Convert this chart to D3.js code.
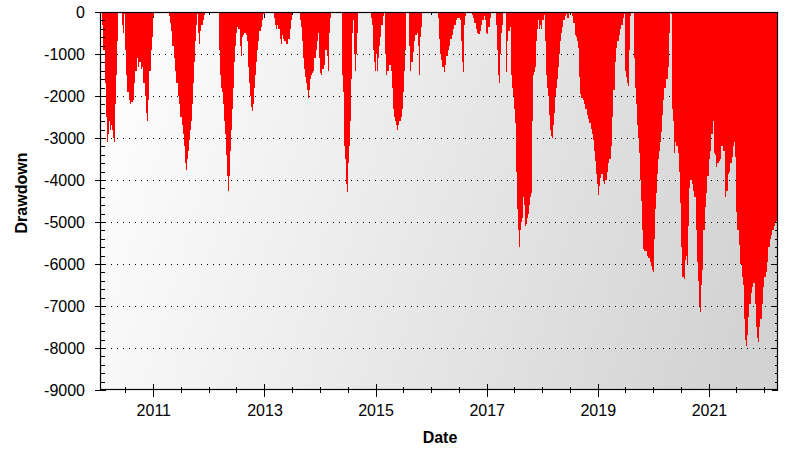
<!DOCTYPE html>
<html>
<head>
<meta charset="utf-8">
<script src="https://cdn.jsdelivr.net/npm/d3@7"></script>
<style>
    body { margin: 0; background: #fff; }
    svg { display: block; font-family: "Liberation Sans", Arial, sans-serif; }
</style>
</head>
<body>
<svg id="chart" width="812" height="462"></svg>
<script>
// --- data (decimal years, drawdown)
const years = [
    2010.076, 2010.088, 2010.112, 2010.136, 2010.160, 2010.178, 2010.196, 2010.214, 2010.232, 2010.250, 2010.268, 2010.286, 2010.298, 2010.316, 2010.334, 2010.352, 2010.370,
    2010.430, 2010.436, 2010.460, 2010.478, 2010.496, 2010.520, 2010.544, 2010.568, 2010.592, 2010.616, 2010.640, 2010.664, 2010.688, 2010.712, 2010.736, 2010.760, 2010.784, 2010.808, 2010.832, 2010.856, 2010.880, 2010.898, 2010.916, 2010.940, 2010.964, 2010.988, 2011.012, 2011.030,
    2011.276, 2011.282, 2011.306, 2011.330, 2011.354, 2011.378, 2011.402, 2011.426, 2011.450, 2011.474, 2011.498, 2011.522, 2011.546, 2011.564, 2011.582, 2011.594, 2011.612, 2011.630, 2011.648, 2011.672, 2011.696, 2011.714, 2011.732, 2011.750, 2011.768, 2011.786, 2011.804, 2011.822, 2011.834, 2011.852, 2011.876, 2011.900, 2011.924, 2011.948,
    2012.176, 2012.182, 2012.200, 2012.218, 2012.236, 2012.254, 2012.272, 2012.290, 2012.308, 2012.326, 2012.344, 2012.362, 2012.380, 2012.398, 2012.416, 2012.434, 2012.452, 2012.470, 2012.488, 2012.506, 2012.524, 2012.542, 2012.566, 2012.584, 2012.602, 2012.626, 2012.650, 2012.674, 2012.698, 2012.716, 2012.734, 2012.752, 2012.770, 2012.788, 2012.806, 2012.824, 2012.842, 2012.860, 2012.878, 2012.896, 2012.920, 2012.944, 2012.968, 2012.992, 2013.010,
    2013.166, 2013.172, 2013.190, 2013.214, 2013.238, 2013.262, 2013.286, 2013.304, 2013.322, 2013.346, 2013.370, 2013.394, 2013.418, 2013.442, 2013.460, 2013.478, 2013.502,
    2013.640, 2013.646, 2013.664, 2013.682, 2013.700, 2013.718, 2013.736, 2013.754, 2013.772, 2013.790, 2013.808, 2013.826, 2013.844, 2013.862, 2013.886, 2013.910, 2013.934, 2013.958, 2013.976, 2013.994, 2014.012, 2014.030, 2014.054, 2014.078, 2014.102, 2014.132, 2014.156, 2014.174, 2014.198, 2014.216,
    2014.390, 2014.396, 2014.408, 2014.420, 2014.432, 2014.444, 2014.456, 2014.468, 2014.480, 2014.492, 2014.504, 2014.522, 2014.540, 2014.558, 2014.576, 2014.594, 2014.612, 2014.630, 2014.648, 2014.666, 2014.684, 2014.696,
    2014.912, 2014.918, 2014.942, 2014.960, 2014.978, 2014.996, 2015.014, 2015.032, 2015.050, 2015.068, 2015.092, 2015.116, 2015.140, 2015.158, 2015.170, 2015.188, 2015.206, 2015.224, 2015.248, 2015.272, 2015.296, 2015.314, 2015.332, 2015.350, 2015.368, 2015.386, 2015.404, 2015.422, 2015.440, 2015.464, 2015.482, 2015.500, 2015.518, 2015.536, 2015.548,
    2015.596, 2015.602, 2015.620, 2015.638, 2015.656, 2015.680, 2015.704, 2015.728, 2015.752, 2015.776, 2015.794, 2015.812, 2015.836, 2015.848,
    2016.118, 2016.130, 2016.148, 2016.166, 2016.190, 2016.214, 2016.238, 2016.262, 2016.286, 2016.310, 2016.334, 2016.358, 2016.382, 2016.406, 2016.430, 2016.454, 2016.478, 2016.502, 2016.526, 2016.544, 2016.562, 2016.580, 2016.598, 2016.622, 2016.646,
    2016.736, 2016.742, 2016.766, 2016.790, 2016.814, 2016.838, 2016.862, 2016.886, 2016.910, 2016.934, 2016.958, 2016.982, 2017.000, 2017.018, 2017.042, 2017.066, 2017.090,
    2017.156, 2017.162, 2017.180, 2017.198, 2017.216, 2017.228, 2017.246, 2017.264, 2017.288, 2017.312,
    2017.336, 2017.342, 2017.360, 2017.378, 2017.402, 2017.426, 2017.444, 2017.462, 2017.480, 2017.498, 2017.516, 2017.534, 2017.546, 2017.558, 2017.570, 2017.582, 2017.594, 2017.606, 2017.624, 2017.642, 2017.660, 2017.678, 2017.696, 2017.714, 2017.732, 2017.750, 2017.768, 2017.786, 2017.804, 2017.816, 2017.834, 2017.852, 2017.870, 2017.888, 2017.906, 2017.924, 2017.942, 2017.966, 2017.990, 2018.014, 2018.038, 2018.050, 2018.062, 2018.080, 2018.098, 2018.116, 2018.134, 2018.152, 2018.170, 2018.188, 2018.206, 2018.224, 2018.242, 2018.260, 2018.278, 2018.296, 2018.314, 2018.332, 2018.350, 2018.368, 2018.392, 2018.416, 2018.440, 2018.464, 2018.488,
    2018.542, 2018.548, 2018.572, 2018.596, 2018.620, 2018.644, 2018.662, 2018.680, 2018.698, 2018.716, 2018.740, 2018.764, 2018.788, 2018.812, 2018.836, 2018.860, 2018.884, 2018.908, 2018.932, 2018.950, 2018.968, 2018.986, 2019.004, 2019.022, 2019.040, 2019.058, 2019.076, 2019.100, 2019.124, 2019.148, 2019.172, 2019.196, 2019.220, 2019.244, 2019.268, 2019.292, 2019.316, 2019.340, 2019.364, 2019.388, 2019.412, 2019.436, 2019.460, 2019.478, 2019.496, 2019.520, 2019.544, 2019.562, 2019.580, 2019.598, 2019.616,
    2019.658, 2019.664, 2019.682, 2019.700, 2019.718, 2019.736, 2019.754, 2019.772, 2019.790, 2019.808, 2019.826, 2019.850, 2019.874, 2019.898, 2019.922, 2019.946, 2019.970, 2019.994, 2020.012, 2020.024, 2020.042, 2020.060, 2020.078, 2020.096, 2020.114, 2020.132, 2020.150, 2020.168, 2020.186, 2020.204,
    2020.222, 2020.246, 2020.270, 2020.288, 2020.306, 2020.324, 2020.342, 2020.360, 2020.378, 2020.396, 2020.414, 2020.438, 2020.462, 2020.480, 2020.498, 2020.516, 2020.534, 2020.558, 2020.576, 2020.594, 2020.612, 2020.636, 2020.654, 2020.678, 2020.702, 2020.726, 2020.750, 2020.774, 2020.798, 2020.816, 2020.834, 2020.846, 2020.864, 2020.888, 2020.912,
    2020.936, 2020.960, 2020.984, 2021.008, 2021.032, 2021.056, 2021.074, 2021.092, 2021.116, 2021.140, 2021.164, 2021.188, 2021.212, 2021.236, 2021.260, 2021.284, 2021.302, 2021.326, 2021.350, 2021.374, 2021.398, 2021.422, 2021.446, 2021.464, 2021.482,
    2021.500, 2021.524, 2021.548, 2021.578, 2021.602, 2021.626, 2021.644, 2021.662, 2021.674, 2021.692, 2021.716, 2021.740, 2021.764, 2021.788, 2021.812, 2021.836, 2021.860, 2021.878, 2021.896, 2021.914, 2021.938, 2021.962, 2021.986, 2022.010, 2022.034, 2022.058, 2022.082, 2022.106, 2022.130, 2022.154, 2022.178, 2022.202, 2022.226, 2022.244
];

const drawdown = [
    0, -300, -900, -1700, -2500, -3100, -2900, -2600, -2800, -2700, -2800, -3000, -3100, -2200, -1500, -700, 0,
    0, -300, -500, -50, -900, -1500, -1900, -2100, -2200, -2150, -2100, -1700, -1400, -1100, -1300, -1200, -1350, -1300, -1700, -2000, -2400, -2600, -2100, -1400, -900, -600, -100, 0,
    0, -100, -250, -450, -800, -1100, -1400, -1700, -2000, -2200, -2500, -2700, -2900, -3200, -3600, -3750, -3500, -3300, -3050, -2800, -2600, -2200, -1700, -1200, -700, -300, -50, -500, -750, -450, -300, -200, -80, 0,
    0, -300, -900, -1500, -1800, -1900, -2200, -2600, -2900, -3400, -3900, -4250, -3900, -3300, -2800, -2300, -1800, -1200, -800, -500, -350, -400, -800, -1050, -600, -550, -500, -550, -700, -1300, -1700, -2000, -2250, -2350, -2200, -1800, -1500, -1200, -900, -700, -450, -350, -200, -50, 0,
    0, -150, -300, -400, -300, -400, -650, -750, -550, -650, -700, -750, -750, -650, -400, -200, 0,
    0, -200, -350, -700, -1100, -1350, -1550, -1700, -1850, -2050, -1850, -1600, -1500, -1450, -1400, -1100, -900, -700, -500, -1100, -1450, -1500, -1350, -1250, -900, -1050, -1400, -500, -150, 0,
    0, -600, -1500, -1900, -2500, -3200, -3500, -3900, -4100, -4280, -4100, -3600, -3200, -2600, -1600, -500, -200, -1000, -1400, -1000, -500, 0,
    0, -150, -300, -900, -1200, -1400, -1000, -1400, -1100, -800, -600, -300, -100, 0, -300, -1000, -1500, -1400, -1250, -1250, -1400, -1800, -2300, -2500, -2600, -2700, -2800, -2700, -2600, -2500, -2300, -1900, -1400, -900, 0,
    0, -300, -800, -1400, -1200, -950, -700, -550, -500, -800, -1500, -600, -350, 0,
    0, -150, -650, -1000, -1150, -1300, -1420, -1250, -1050, -900, -800, -650, -550, -400, -300, -200, -150, -150, -200, -700, -1200, -1420, -300, -100, 0,
    0, -80, -150, -250, -400, -500, -530, -450, -300, -200, -100, -200, -500, -520, -350, -150, 0,
    0, -100, -300, -900, -1500, -1700, -1000, -500, -300, 0,
    0, -1000, -1420, -700, -450, -350, -1500, -1800, -2000, -2300, -2650, -3800, -4400, -4700, -5200, -5500, -5600, -5200, -5000, -4900, -4400, -4600, -5100, -5050, -4900, -4800, -4600, -4400, -4300, -2600, -1500, -1420, -1300, -700, -400, -200, -400, -300, -400, -200, -80, 0, -700, -1500, -1800, -2000, -2450, -2800, -2950, -3000, -2700, -2400, -2000, -1800, -1600, -1300, -1000, -700, -500, -350, -200, -100, -50, -150, 0,
    0, -100, -250, -550, -600, -700, -850, -1550, -1950, -2050, -2100, -2200, -2300, -2450, -2550, -2650, -2780, -2900, -3050, -3300, -3550, -3850, -4100, -4350, -4150, -3950, -3850, -4000, -4100, -4000, -3800, -3600, -3500, -3200, -2500, -1850, -1200, -850, -700, -550, -400, -300, -150, -50, -1400, -1550, -1700, -1750, -900, -100, 0,
    0, -1100, -1800, -2200, -2700, -3000, -3350, -4000, -4500, -5200, -5650, -5700, -5700, -5800, -5850, -5950, -6050, -6150, -6200, -5400, -4700, -4300, -3850, -3500, -3300, -3100, -2850, -2450, -2100, -1800,
    -1800, -1600, -1300, -500, 0, -50, -2300, -2600, -3350, -3100, -3200, -3200, -3350, -3800, -4550, -5600, -6300, -6350, -5900, -5800, -6000, -5100, -4200, -4000, -4100, -4250, -4400, -5200, -5950, -6400, -7000, -7150, -6500, -6150, -5200,
    -4650, -4300, -3900, -3500, -3300, -2900, -2600, -3350, -3400, -3700, -3600, -3550, -3500, -3200, -3300, -3300, -4400, -4250, -3850, -3800, -3600, -3450, -3200, -3100, -3450,
    -4750, -5200, -5550, -6000, -6300, -6500, -7300, -7800, -7950, -7700, -7250, -6950, -6700, -6550, -6450, -6950, -7500, -7750, -7850, -7500, -7300, -6950, -6550, -6300, -6200, -5950, -5600, -5400, -5300, -5200, -5100, -5000, -4980, -4920
];

const xDomainYears = [2010.04, 2022.244];
const labelYears = [2011, 2013, 2015, 2017, 2019, 2021];
const yMajorTicks = d3.range(0, -9001, -1000);
const yMinorTicks = d3.range(0, -9001, -200);
const gridValues = d3.range(-1000, -8001, -1000);

const margin = { left: 100, right: 778, top: 12, bottom: 390 };

// --- helpers
function yearToDate(y) {
    const yr = Math.floor(y);
    const start = new Date(yr, 0, 1);
    const end = new Date(yr + 1, 0, 1);
    return new Date(+start + (y - yr) * (end - start));
}

function drawChart() {
    if (years.length !== drawdown.length) console.warn('length mismatch', years.length, drawdown.length);

    const data = years.map((yr, i) => ({ date: yearToDate(yr), value: drawdown[i] }));

    const svg = d3.select('#chart');

    const x = d3.scaleTime()
        .domain(xDomainYears.map(yearToDate))
        .range([margin.left, margin.right]);

    const y = d3.scaleLinear()
        .domain([-9000, 0])
        .range([margin.bottom, margin.top]);

    const defs = svg.append('defs');
    const grad = defs.append('linearGradient')
        .attr('id', 'bg')
        .attr('gradientUnits', 'userSpaceOnUse')
        .attr('x1', margin.left).attr('y1', margin.top)
        .attr('x2', margin.right).attr('y2', margin.top + 200);
    grad.append('stop').attr('offset', 0).attr('stop-color', '#ffffff');
    grad.append('stop').attr('offset', 1).attr('stop-color', '#d3d3d3');

    defs.append('clipPath').attr('id', 'plotClip')
        .append('rect')
        .attr('x', margin.left).attr('y', margin.top)
        .attr('width', margin.right - margin.left)
        .attr('height', margin.bottom - margin.top);

    svg.append('rect')
        .attr('x', margin.left).attr('y', margin.top)
        .attr('width', margin.right - margin.left)
        .attr('height', margin.bottom - margin.top)
        .attr('fill', 'url(#bg)');

    // --- dotted grid
    svg.append('g')
        .selectAll('line')
        .data(gridValues)
        .enter()
        .append('line')
        .attr('x1', margin.left + 5).attr('x2', margin.right)
        .attr('y1', d => Math.round(y(d)) + 0.5)
        .attr('y2', d => Math.round(y(d)) + 0.5)
        .attr('stroke', '#000')
        .attr('stroke-width', 1)
        .attr('stroke-dasharray', '1,5');

    // --- inner ticks (under the area)
    const halfYears = d3.timeMonth.every(6).range(x.domain()[0], x.domain()[1]);
    const isMajor = d => d.getMonth() === 0 && labelYears.includes(d.getFullYear());

    const inner = svg.append('g')
        .attr('stroke', '#000')
        .attr('shape-rendering', 'crispEdges');

    inner.selectAll('.tTop')
        .data(halfYears)
        .enter()
        .append('line')
        .attr('x1', d => Math.round(x(d)) + 0.5).attr('x2', d => Math.round(x(d)) + 0.5)
        .attr('y1', margin.top)
        .attr('y2', d => margin.top + (isMajor(d) ? 6 : 3));

    inner.selectAll('.tRight')
        .data(yMinorTicks)
        .enter()
        .append('line')
        .attr('y1', d => Math.round(y(d)) + 0.5).attr('y2', d => Math.round(y(d)) + 0.5)
        .attr('x1', d => margin.right - (d % 1000 === 0 ? 6 : 3))
        .attr('x2', margin.right);

    // --- drawdown area (blocky, like the source plot)
    const area = d3.area()
        .curve(d3.curveStep)
        .x(d => x(d.date))
        .y0(y(0))
        .y1(d => y(d.value));

    svg.append('path')
        .datum(data)
        .attr('clip-path', 'url(#plotClip)')
        .attr('fill', '#ff0000')
        .attr('shape-rendering', 'crispEdges')
        .attr('d', area);

    // --- frame
    svg.append('rect')
        .attr('x', margin.left + 0.5).attr('y', margin.top + 0.5)
        .attr('width', margin.right - margin.left - 1)
        .attr('height', margin.bottom - margin.top - 1)
        .attr('fill', 'none')
        .attr('stroke', '#000')
        .attr('stroke-width', 1.2);

    // --- left axis (plain hyphen minus, like the source)
    const yAxis = svg.append('g')
        .attr('transform', `translate(${margin.left},0)`)
        .call(d3.axisLeft(y).tickValues(yMajorTicks).tickSize(5).tickPadding(10).tickFormat(d => String(d)));
    yAxis.select('.domain').remove();
    yAxis.selectAll('text').attr('font-size', 16).attr('font-family', '"Liberation Sans", Arial, sans-serif').attr('fill', '#000');
    yAxis.selectAll('.tick line').attr('x2', 6).attr('x1', -5).attr('shape-rendering', 'crispEdges');

    svg.append('g')
        .attr('stroke', '#000')
        .attr('shape-rendering', 'crispEdges')
        .selectAll('line')
        .data(yMinorTicks.filter(d => d % 1000 !== 0))
        .enter()
        .append('line')
        .attr('x1', margin.left).attr('x2', margin.left + 5)
        .attr('y1', d => Math.round(y(d)) + 0.5).attr('y2', d => Math.round(y(d)) + 0.5);

    // --- bottom axis
    const xAxis = svg.append('g')
        .attr('transform', `translate(0,${margin.bottom})`)
        .call(d3.axisBottom(x)
            .tickValues(labelYears.map(yr => new Date(yr, 0, 1)))
            .tickSize(7)
            .tickPadding(8)
            .tickFormat(d3.timeFormat('%Y')));
    xAxis.select('.domain').remove();
    xAxis.selectAll('text').attr('font-size', 16).attr('font-family', '"Liberation Sans", Arial, sans-serif').attr('fill', '#000');
    xAxis.selectAll('.tick line').attr('y1', -6).attr('shape-rendering', 'crispEdges');

    svg.append('g')
        .attr('stroke', '#000')
        .attr('shape-rendering', 'crispEdges')
        .selectAll('line')
        .data(halfYears.filter(d => !isMajor(d)))
        .enter()
        .append('line')
        .attr('x1', d => Math.round(x(d)) + 0.5).attr('x2', d => Math.round(x(d)) + 0.5)
        .attr('y1', margin.bottom - 3).attr('y2', margin.bottom + 3);

    // --- titles
    svg.append('text')
        .attr('transform', 'translate(27,193) rotate(-90)')
        .attr('text-anchor', 'middle')
        .attr('font-size', 16)
        .attr('font-weight', 'bold')
        .text('Drawdown');

    svg.append('text')
        .attr('x', 440)
        .attr('y', 443)
        .attr('text-anchor', 'middle')
        .attr('font-size', 16)
        .attr('font-weight', 'bold')
        .text('Date');
}

drawChart();
</script>
</body>
</html>
